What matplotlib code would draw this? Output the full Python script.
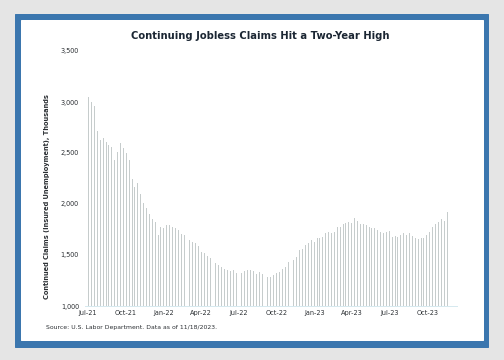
import datetime as dt
from matplotlib import pyplot as plt
from matplotlib.patches import Rectangle

# weekly continuing claims, thousands
claims = [
    3050, 3000, 2965, 2720, 2630, 2650, 2610, 2575, 2560, 2430,
    2510, 2600, 2545, 2500, 2430, 2250, 2170, 2210, 2100, 2010,
    1960, 1900, 1850, 1820, 1700, 1770, 1760, 1790, 1795, 1770,
    1760, 1750, 1710, 1700, 1680, 1650, 1630, 1620, 1590, 1525,
    1515, 1495, 1470, 1440, 1420, 1400, 1380, 1365, 1355, 1340,
    1350, 1325, 1330, 1325, 1345, 1350,
    1353, 1346, 1314, 1337, 1314, 1294, 1281, 1288, 1304, 1320,
    1330, 1359, 1386, 1428, 1431, 1451, 1484, 1549, 1556, 1598,
    1621, 1647, 1631, 1663, 1663, 1680, 1712, 1729, 1719,
    1729, 1778, 1771, 1804, 1817, 1827, 1810, 1859, 1833, 1804,
    1804, 1794, 1778, 1761, 1761, 1745, 1729, 1719, 1729,
    1738, 1673, 1690, 1680, 1696, 1712, 1696, 1712, 1686, 1663,
    1653, 1663, 1663, 1696, 1729, 1771, 1804, 1827, 1850, 1833,
    1925,
]
start = dt.date(2021, 7, 3)
weeks = [start + dt.timedelta(weeks=i) for i in range(len(claims))]

tick_dates = [dt.date(2021, 7, 1), dt.date(2021, 10, 1), dt.date(2022, 1, 1),
              dt.date(2022, 4, 1), dt.date(2022, 7, 1), dt.date(2022, 10, 1),
              dt.date(2023, 1, 1), dt.date(2023, 4, 1), dt.date(2023, 7, 1),
              dt.date(2023, 10, 1)]
tick_labels = ['Jul-21', 'Oct-21', 'Jan-22', 'Apr-22', 'Jul-22', 'Oct-22',
               'Jan-23', 'Apr-23', 'Jul-23', 'Oct-23']
y_ticks = [1000, 1500, 2000, 2500, 3000, 3500]

W, H = 504, 360
fig = plt.figure(figsize=(7, 5), dpi=72)
fig.patch.set_facecolor('#e5e5e5')

# blue frame + white card
fig.patches.append(Rectangle((15 / W, 1 - 346.7 / H), 473 / W, 333 / H,
                             transform=fig.transFigure, color='#3b76ae', zorder=-2))
fig.patches.append(Rectangle((20.5 / W, 1 - 340 / H), 462.5 / W, 320 / H,
                             transform=fig.transFigure, color='white', zorder=-1))

ax = fig.add_axes([85 / W, 1 - 306 / H, 372 / W, 255 / H])
ax.set_zorder(2)
ax.set_facecolor('none')
ax.bar(weeks, [c - 1000 for c in claims], bottom=1000, width=2.3,
       color='#c6cccc', linewidth=0)

ax.set_ylim(1000, 3500)
ax.set_xlim(dt.date(2021, 6, 24), dt.date(2023, 12, 12))
ax.set_yticks(y_ticks)
ax.set_yticklabels([f'{v:,}' for v in y_ticks])
ax.set_xticks(tick_dates)
ax.set_xticklabels(tick_labels)
ax.tick_params(axis='both', length=0, labelsize=6.5, colors='#2b2f33')
ax.tick_params(axis='y', pad=6)
ax.tick_params(axis='x', pad=4)
for side in ['top', 'right', 'left']:
    ax.spines[side].set_visible(False)
ax.spines['bottom'].set_color('#d6e9ef')
ax.spines['bottom'].set_linewidth(1)

fig.text(260 / W, 1 - 36 / H, 'Continuing Jobless Claims Hit a Two-Year High',
         ha='center', va='center', fontsize=10, fontweight='bold', color='#1b2633')
fig.text(47 / W, 1 - 197 / H, 'Continued Claims (Insured Unemployment), Thousands',
         ha='center', va='center', rotation=90, fontsize=6.6, fontweight='bold',
         color='#2b2f33')
fig.text(46 / W, 1 - 327 / H, 'Source: U.S. Labor Department. Data as of 11/18/2023.',
         ha='left', va='center', fontsize=6.1, color='#2b2f33')

plt.savefig('out.png', dpi=72, facecolor=fig.get_facecolor())
